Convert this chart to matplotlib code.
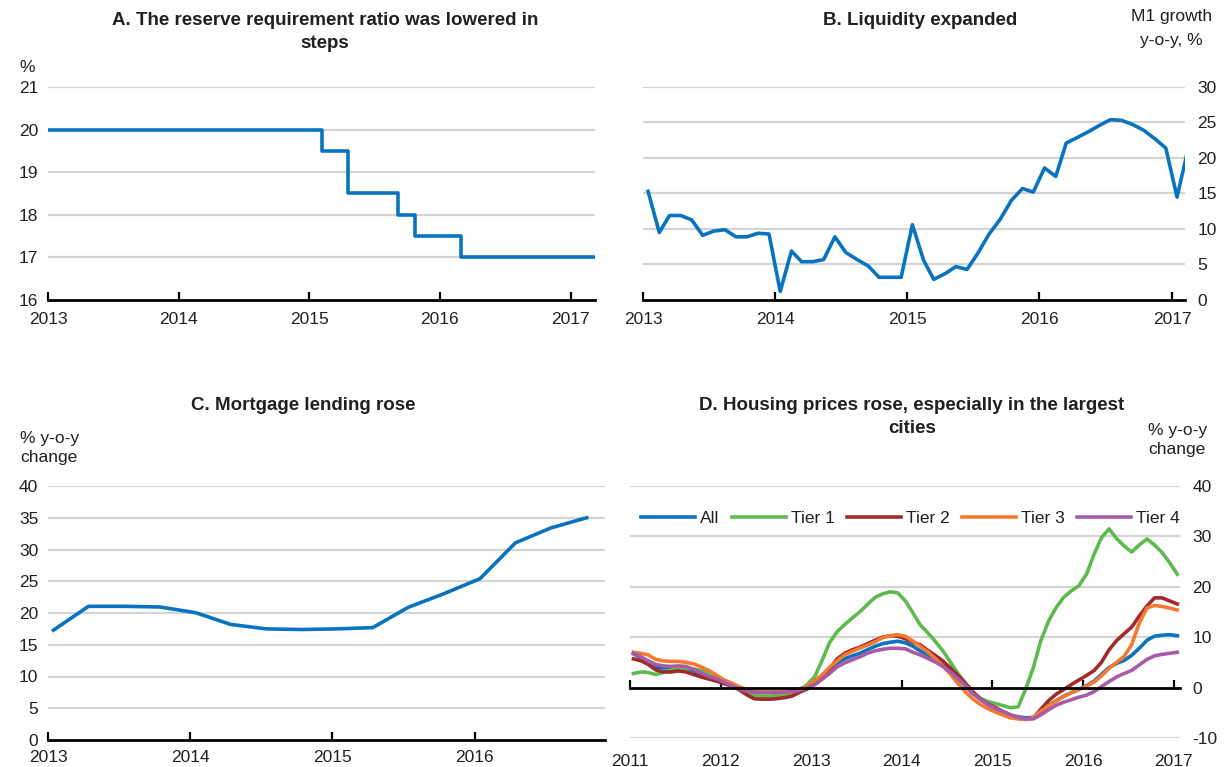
import matplotlib
matplotlib.use("Agg")
import matplotlib.pyplot as plt
import matplotlib.dates as mdates
import pandas as pd
import numpy as np

plt.rcParams['font.family'] = ['Liberation Sans', 'DejaVu Sans']
plt.rcParams['axes.unicode_minus'] = False

# ---------------- Data ----------------
# Panel A: reserve requirement ratio (%), step changes
rrr_dates = ['2013-01-01', '2015-02-05', '2015-04-20', '2015-09-06', '2015-10-24', '2016-03-01', '2017-03-10']
rrr_values = [20.0, 19.5, 18.5, 18.0, 17.5, 17.0, 17.0]

# Panel B: M1 growth y-o-y %, monthly Jan 2013 - Feb 2017
m1_start = '2013-01'
m1_values = [15.3, 9.5, 11.9, 11.9, 11.3, 9.1, 9.7, 9.9, 8.9, 8.9, 9.4, 9.3,
             1.2, 6.9, 5.4, 5.4, 5.7, 8.9, 6.7, 5.7, 4.8, 3.2, 3.2, 3.2,
             10.6, 5.6, 2.9, 3.7, 4.7, 4.3, 6.6, 9.3, 11.4, 14.0, 15.7, 15.2,
             18.6, 17.4, 22.1, 22.9, 23.7, 24.6, 25.4, 25.3, 24.7, 23.9, 22.7, 21.4,
             14.5, 21.4]

# Panel C: mortgage lending % y-o-y, quarterly Q1 2013 - Q4 2016
mort_start = '2013-01'
mort_values = [17.3, 21.05, 21.05, 20.95, 20.05, 18.2, 17.5, 17.4,
               17.5, 17.7, 20.9, 23.05, 25.4, 31.05, 33.4, 35.0]

# Panel D: housing prices % y-o-y, monthly Jan 2011 - Jan 2017
house_start = '2011-01'
house_all = [6.7, 5.9, 5.0, 4.0, 3.9, 3.9, 4.0, 3.9, 3.3, 2.5, 2.0, 1.5,
             0.9, 0.4, -0.1, -0.5, -0.8, -0.9, -0.9, -0.9, -0.8, -0.7, -0.3, 0.3,
             1.0, 2.2, 3.5, 4.9, 5.7, 6.3, 6.8, 7.5, 8.2, 8.7, 9.0, 9.2,
             8.9, 8.2, 7.3, 6.5, 5.6, 4.6, 3.3, 1.8, 0.3, -1.2, -2.4, -3.4,
             -4.2, -4.9, -5.5, -5.8, -6.0, -5.9, -4.9, -3.5, -2.6, -1.7, -1.0, -0.4,
             0.4, 1.3, 2.6, 4.0, 4.8, 5.4, 6.4, 7.8, 9.4, 10.2, 10.4, 10.5,
             10.3]
house_tier1 = [2.8, 3.1, 3.0, 2.6, 3.0, 3.5, 3.9, 3.9, 3.7, 3.4, 3.0, 2.0,
               1.0, 0.5, -0.3, -1.0, -1.5, -1.7, -1.7, -1.6, -1.5, -1.0, -0.6, 0.6,
               2.2, 5.6, 8.9, 11.1, 12.5, 13.8, 15.0, 16.5, 17.9, 18.6, 19.0, 18.8,
               17.2, 14.8, 12.5, 10.9, 9.2, 7.3, 5.1, 2.8, 0.8, -1.0, -2.2, -2.8,
               -3.2, -3.6, -4.0, -3.8, -0.3, 4.0, 9.3, 13.2, 15.9, 17.9, 19.2, 20.2,
               22.5, 26.5, 29.7, 31.5, 29.6, 28.1, 26.9, 28.3, 29.5, 28.3, 26.8, 24.8,
               22.5]
house_tier2 = [5.7, 5.3, 4.6, 3.5, 3.1, 3.1, 3.3, 3.1, 2.6, 2.1, 1.7, 1.3,
               0.8, 0.3, -0.4, -1.4, -2.2, -2.3, -2.3, -2.2, -2.0, -1.7, -0.9, -0.3,
               0.7, 1.9, 3.7, 5.7, 6.8, 7.5, 8.0, 8.7, 9.4, 10.0, 10.3, 10.2,
               9.7, 9.0, 8.5, 7.4, 6.4, 5.3, 3.9, 2.4, 0.8, -0.9, -2.3, -3.3,
               -4.0, -4.8, -5.5, -6.1, -6.3, -6.0, -4.3, -2.6, -1.3, -0.4, 0.6, 1.5,
               2.4, 3.4, 5.0, 7.5, 9.3, 10.7, 12.0, 14.2, 16.2, 17.8, 17.8, 17.2,
               16.6]
house_tier3 = [7.0, 6.8, 6.5, 5.6, 5.3, 5.2, 5.2, 5.0, 4.7, 4.1, 3.4, 2.5,
               1.5, 0.9, 0.2, -0.4, -0.7, -0.8, -0.9, -0.8, -0.8, -0.7, -0.4, 0.2,
               1.4, 2.6, 4.0, 5.3, 6.5, 7.2, 7.8, 8.4, 9.1, 9.9, 10.3, 10.5,
               10.2, 9.2, 8.2, 7.1, 5.8, 4.3, 2.7, 0.8, -0.9, -2.3, -3.4, -4.2,
               -4.9, -5.5, -6.0, -6.2, -6.3, -5.9, -4.7, -3.6, -2.6, -1.8, -1.0, -0.4,
               0.3, 1.1, 2.3, 3.8, 5.0, 6.2, 8.5, 12.8, 15.8, 16.3, 16.1, 15.8,
               15.4]
house_tier4 = [6.8, 6.1, 5.3, 4.6, 4.3, 4.2, 4.3, 4.2, 3.6, 2.9, 2.2, 1.8,
               1.1, 0.4, -0.2, -0.7, -0.9, -1.0, -1.0, -1.0, -0.9, -0.8, -0.5, -0.1,
               0.6, 1.7, 2.8, 4.1, 4.9, 5.5, 6.1, 6.8, 7.3, 7.6, 7.8, 7.8,
               7.7, 7.0, 6.5, 5.8, 5.1, 4.2, 3.1, 1.8, 0.4, -1.2, -2.4, -3.4,
               -4.2, -4.8, -5.4, -5.9, -6.2, -6.2, -5.4, -4.4, -3.5, -2.9, -2.4, -1.9,
               -1.5, -0.8, 0.2, 1.2, 2.1, 2.8, 3.4, 4.5, 5.6, 6.3, 6.6, 6.8,
               7.0]
house_labels = ['All', 'Tier 1', 'Tier 2', 'Tier 3', 'Tier 4']

# ---------------- Style ----------------
BLUE = '#0A73C0'
COLORS = ['#0A73C0', '#5DBB4E', '#A12A2A', '#F47A30', '#A95BA5']
GRID = '#D4D4D4'
TXT = '#231F20'
TICK_FS = 12.5
TITLE_FS = 13.5
LW = 2.6

W, H = 1225, 767
fig = plt.figure(figsize=(W / 100, H / 100), dpi=100)


def px_axes(left, top, right, bottom):
    return fig.add_axes([left / W, 1 - bottom / H, (right - left) / W, (bottom - top) / H])


def style(ax, yticks, side='left', pad=9):
    ax.set_facecolor('white')
    for s in ['top', 'right', 'left']:
        ax.spines[s].set_visible(False)
    ax.spines['bottom'].set_color('black')
    ax.spines['bottom'].set_linewidth(2)
    ax.set_yticks(yticks)
    ax.yaxis.grid(True, color=GRID, linewidth=1.6)
    ax.set_axisbelow(True)
    ax.tick_params(axis='y', length=0, labelsize=TICK_FS, labelcolor=TXT, pad=7)
    if side == 'right':
        ax.yaxis.tick_right()
        ax.tick_params(axis='y', length=0, pad=9)
    ax.tick_params(axis='x', direction='in', length=6, width=1.6, labelsize=TICK_FS,
                   labelcolor=TXT, pad=pad, color='black')
    ax.xaxis.set_major_locator(mdates.YearLocator())
    ax.xaxis.set_major_formatter(mdates.DateFormatter('%Y'))


# Panel A
axA = px_axes(48, 87, 595, 300)
axA.step(pd.to_datetime(rrr_dates), rrr_values, where='post', color=BLUE, lw=LW)
axA.set_ylim(16, 21)
axA.set_xlim(pd.Timestamp('2013-01-01'), pd.Timestamp(rrr_dates[-1]))
style(axA, [16, 17, 18, 19, 20, 21])
axA.get_ygridlines()[0].set_visible(False)
fig.text(325 / W, 1 - 12 / H, 'A. The reserve requirement ratio was lowered in\nsteps',
         ha='center', va='top', fontsize=TITLE_FS, fontweight='bold', color=TXT, linespacing=1.45)
fig.text(27 / W, 1 - 68 / H, '%', ha='center', va='center', fontsize=TICK_FS, color=TXT)

# Panel B
axB = px_axes(643, 87, 1185, 300)
m1_dates = pd.date_range(m1_start, periods=len(m1_values), freq='MS') + pd.Timedelta(days=14)
axB.plot(m1_dates, m1_values, color=BLUE, lw=LW)
axB.set_ylim(0, 30)
axB.set_xlim(pd.Timestamp('2013-01-01'), pd.Timestamp('2017-02-06'))
style(axB, [0, 5, 10, 15, 20, 25, 30], side='right')
axB.get_ygridlines()[0].set_visible(False)
fig.text(920 / W, 1 - 12 / H, 'B. Liquidity expanded', ha='center', va='top',
         fontsize=TITLE_FS, fontweight='bold', color=TXT)
fig.text(1212 / W, 1 - 16 / H, 'M1 growth', ha='right', va='center', fontsize=TICK_FS, color=TXT)
fig.text(1203 / W, 1 - 41 / H, 'y-o-y, %', ha='right', va='center', fontsize=TICK_FS, color=TXT)

# Panel C
axC = px_axes(48, 486, 605, 740)
mort_dates = pd.date_range(mort_start, periods=len(mort_values), freq='QS') + pd.Timedelta(days=14)
axC.plot(mort_dates, mort_values, color=BLUE, lw=LW)
axC.set_ylim(0, 40)
axC.set_xlim(pd.Timestamp('2013-01-01'), pd.Timestamp('2016-12-01'))
style(axC, [0, 5, 10, 15, 20, 25, 30, 35, 40], pad=7)
axC.get_ygridlines()[0].set_visible(False)
fig.text(303 / W, 1 - 397 / H, 'C. Mortgage lending rose', ha='center', va='top',
         fontsize=TITLE_FS, fontweight='bold', color=TXT)
fig.text(20 / W, 1 - 448 / H, '% y-o-y\nchange', ha='left', va='center', fontsize=TICK_FS,
         color=TXT, linespacing=1.4)

# Panel D
axD = px_axes(630, 486, 1180, 738)
house_dates = pd.date_range(house_start, periods=len(house_all), freq='MS') + pd.Timedelta(days=14)
series = [house_all, house_tier1, house_tier2, house_tier3, house_tier4]
lines = []
for vals, col, lab in zip(series, COLORS, house_labels):
    ln, = axD.plot(house_dates, vals, color=col, lw=LW, label=lab)
    lines.append(ln)
axD.set_ylim(-10, 40)
axD.set_xlim(pd.Timestamp('2011-01-01'), pd.Timestamp('2017-01-26'))
style(axD, [-10, 0, 10, 20, 30, 40], side='right', pad=48)
axD.spines['bottom'].set_position(('data', 0))
axD.get_ygridlines()[1].set_visible(False)
leg = axD.legend(lines, house_labels, loc='center',
                 bbox_to_anchor=(0.51, 0.873), ncol=5, frameon=False, fontsize=TICK_FS,
                 handlelength=3.1, handletextpad=0.3, columnspacing=0.7, borderaxespad=0)
for t in leg.get_texts():
    t.set_color(TXT)
fig.text(912 / W, 1 - 397 / H, 'D. Housing prices rose, especially in the largest\ncities',
         ha='center', va='top', fontsize=TITLE_FS, fontweight='bold', color=TXT, linespacing=1.45)
fig.text(1148 / W, 1 - 440 / H, '% y-o-y\nchange', ha='left', va='center', fontsize=TICK_FS,
         color=TXT, linespacing=1.4)

fig.savefig('out.png', dpi=100, facecolor='white')
